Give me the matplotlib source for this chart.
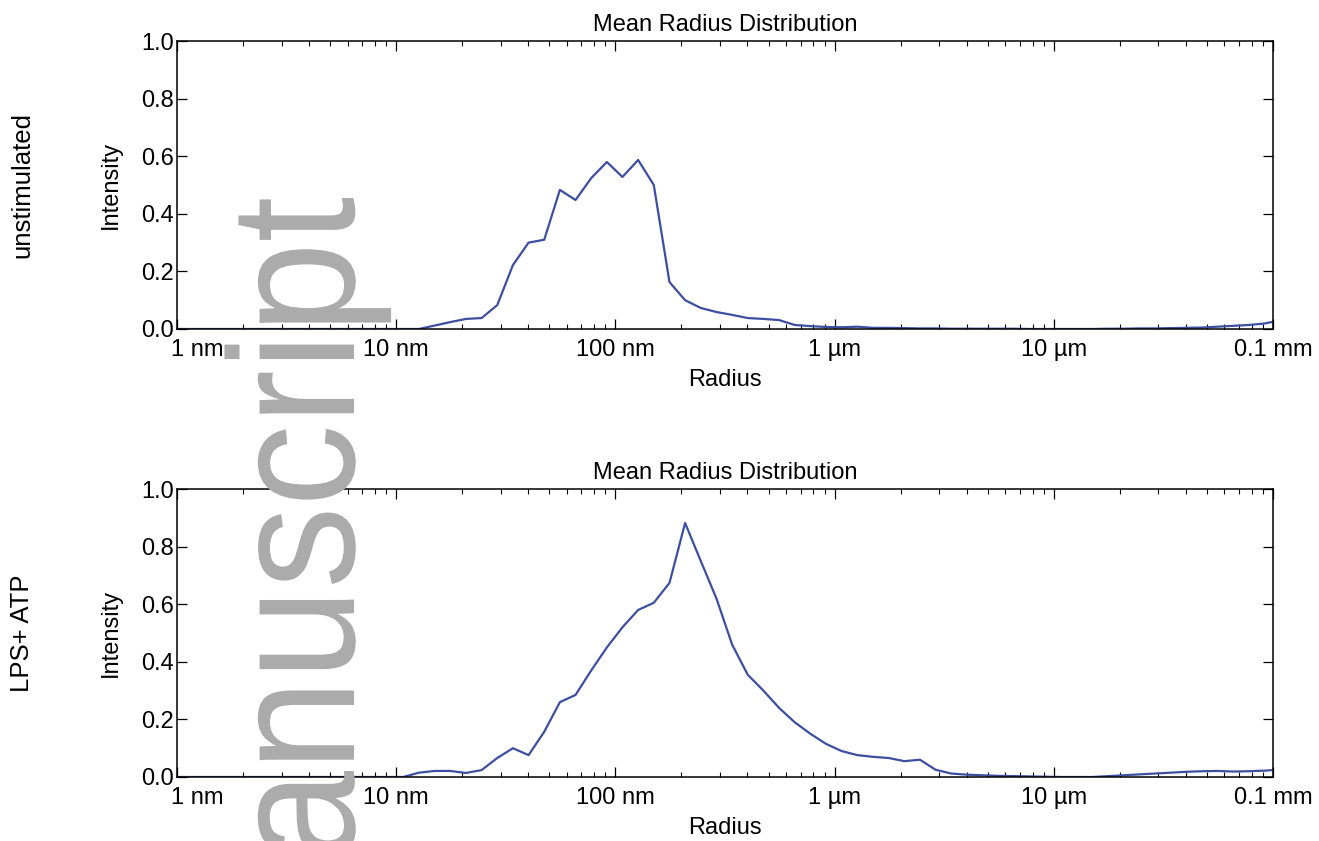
import numpy as np
import matplotlib
matplotlib.use('Agg')
import matplotlib.pyplot as plt
from matplotlib.ticker import FixedLocator, LogLocator, NullFormatter
from matplotlib.textpath import TextPath
from matplotlib.patches import PathPatch
from matplotlib.font_manager import FontProperties
from matplotlib.transforms import Affine2D, IdentityTransform, ScaledTranslation

plt.rcParams['font.family'] = ['Liberation Sans', 'DejaVu Sans']

# bin centres of the size distribution (nm)
radius_nm = [0.914, 1.077, 1.270, 1.497, 1.765, 2.080, 2.452, 2.891, 3.408, 4.017,
             4.735, 5.582, 6.580, 7.757, 9.144, 10.77, 12.70, 14.97, 17.65, 20.80,
             24.52, 28.91, 34.08, 40.17, 47.35, 55.82, 65.80, 77.57, 91.44, 107.7,
             127.0, 149.7, 176.5, 208.0, 245.2, 289.1, 340.8, 401.7, 473.5, 558.2,
             658.0, 775.7, 914.4, 1077, 1270, 1497, 1765, 2080, 2452, 2891,
             3408, 4017, 4735, 5582, 6580, 7757, 9144, 10770, 12700, 14970,
             17650, 20800, 24520, 28910, 34080, 40170, 47350, 55820, 65800, 77570,
             91440, 107700]

# unstimulated
intensity_unstim = [0, 0, 0, 0, 0, 0, 0, 0, 0, 0,
                    0, 0, 0, 0, 0, 0, 0, 0.012, 0.024, 0.035,
                    0.038, 0.083, 0.222, 0.30, 0.31, 0.483, 0.448, 0.524, 0.580, 0.528,
                    0.587, 0.50, 0.163, 0.10, 0.073, 0.059, 0.049, 0.038, 0.035, 0.031,
                    0.014, 0.010, 0.007, 0.006, 0.008, 0.004, 0.004, 0.003, 0.002, 0.002,
                    0.001, 0.001, 0.001, 0.001, 0.001, 0, 0, 0, 0, 0,
                    0.001, 0.001, 0.002, 0.002, 0.003, 0.004, 0.005, 0.008, 0.011, 0.014,
                    0.019, 0.030]

# LPS + ATP
intensity_lps = [0, 0, 0, 0, 0, 0, 0, 0, 0, 0,
                 0, 0, 0, 0, 0, 0, 0.015, 0.021, 0.021, 0.014,
                 0.024, 0.066, 0.10, 0.076, 0.157, 0.26, 0.285, 0.37, 0.45, 0.52,
                 0.58, 0.605, 0.674, 0.882, 0.75, 0.62, 0.46, 0.355, 0.30, 0.24,
                 0.19, 0.15, 0.115, 0.09, 0.076, 0.07, 0.066, 0.055, 0.06, 0.025,
                 0.012, 0.008, 0.006, 0.004, 0.003, 0.002, 0.001, 0, 0, 0,
                 0.003, 0.006, 0.009, 0.012, 0.015, 0.018, 0.020, 0.021, 0.019, 0.020,
                 0.022, 0.026]

tick_pos = [1, 10, 100, 1000, 1e4, 1e5]
tick_lab = ['1 nm', '10 nm', '100 nm', '1 \u00b5m', '10 \u00b5m', '0.1 mm']
row_names = ['unstimulated', 'LPS+ ATP']

fig = plt.figure(figsize=(13.19, 8.41), dpi=100)
line_col = '#3c4fa0'
fs = 17

for i, (ys, name) in enumerate(zip([intensity_unstim, intensity_lps], row_names)):
    bottom = 0.6088 if i == 0 else 0.0761
    ax = fig.add_axes([0.1342, bottom, 0.8309, 0.3424])
    ax.plot(radius_nm, ys, color=line_col, lw=1.6)
    ax.set_xscale('log')
    ax.set_xlim(1, 1e5)
    ax.set_ylim(0, 1)
    ax.xaxis.set_major_locator(FixedLocator(tick_pos))
    ax.set_xticklabels(tick_lab)
    ax.xaxis.set_minor_locator(LogLocator(base=10, subs=np.arange(2, 10)))
    ax.xaxis.set_minor_formatter(NullFormatter())
    ax.set_yticks([0, 0.2, 0.4, 0.6, 0.8, 1.0])
    ax.set_yticklabels(['0.0', '0.2', '0.4', '0.6', '0.8', '1.0'])
    ax.tick_params(which='both', direction='in', top=True, right=True, labelsize=fs)
    ax.tick_params(which='major', length=7, width=0.9)
    ax.tick_params(which='minor', length=3.5, width=0.8)
    ax.tick_params(axis='x', pad=7)
    ax.tick_params(axis='y', pad=2)
    for sp in ax.spines.values():
        sp.set_linewidth(1.1)
    # first label sits a bit right of its tick
    first = ax.get_xticklabels()[0]
    first.set_transform(first.get_transform() + ScaledTranslation(0.2, 0, fig.dpi_scale_trans))
    ax.set_title('Mean Radius Distribution', fontsize=fs, pad=7)
    ax.set_xlabel('Radius', fontsize=fs, labelpad=6)
    ax.set_ylabel('Intensity', fontsize=fs)
    ax.yaxis.set_label_coords(-0.05, 0.5)
    fig.text(0.017, bottom + 0.1712, name, rotation=90, fontsize=18.5,
             ha='center', va='center')

# watermark, slightly stretched across like the scanned figure
wm = TextPath((0, 0), 'Manuscript', size=164,
              prop=FontProperties(family='Liberation Sans'))
wm_end = wm.get_extents().x1
wm_tr = (Affine2D().rotate_deg(90).scale(1.09, 1.0)
         .translate(354, 841 - 198 - wm_end))
fig.add_artist(PathPatch(wm, facecolor='#ababab', edgecolor='none',
                         transform=wm_tr + IdentityTransform(), zorder=10))

fig.savefig('out.png', dpi=100)
